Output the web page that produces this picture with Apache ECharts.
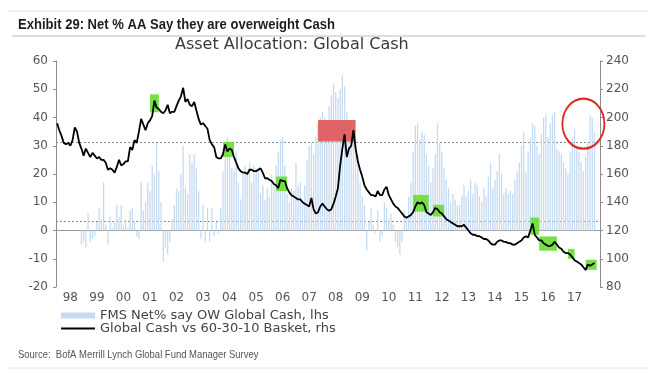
<!DOCTYPE html>
<html><head><meta charset="utf-8">
<script src="https://cdn.jsdelivr.net/npm/echarts@6/dist/echarts.min.js"></script>
<style>html,body{margin:0;padding:0;background:#fff}#c{width:657px;height:373px}</style>
</head><body><div id="c"></div>
<script>
// ---- data ----
const startYear = 1998;
const monthCount = 246; // Jan 1998 .. Jun 2018

// FMS Net% say OW Global Cash (lhs), monthly from Jan 1998
const fmsNetCash = [
 null,null,null,null,null,null,null,null,null,null,null,-5,
 -4,-6,6,-4,-3,-2,3,8,4,17,2,-5,
 5,1,3,9,5,9,2,4,1,7,8,3,
 -2,-3,17,7,10,17,14,23,20,31,21,10,
 -11,-6,-8.5,-4,4,9,15,14,20,30,15,13,
 27,24,27,22,14,-3,9,-4,8,-4,8,-2,
 3,-1,8,21,26,33,26,22,21,28,17,11,
 20,23,20,24,17,23,22,22,13,16,11,15,
 12,20,16,23,28,32,33,23,13,10,15,14,
 24,16,17,10,16,25,30,31,27,33,38,40,
 42,40,38,44,48,52,49,47,50,55,51,42,
 38,35,33,30,27,17,12,9,-7,3,8,2,
 -1,7,-4,-2,10,8,4,6,2,-4,-6,-8.5,
 -4,7,5,12,17,28,37,38,32,35,34,27,
 23,17,22,27,38,31,28,22,18,15,10,13,
 11,9,9,12,16,12,14,18,13,17,16,12,
 10,15,12,19,24,15,18,21,27,20,13,15,
 13,14,13,18,21,24,30,35,21,28,33,38,
 37,30,27,34,40,41,33,38,41,42,29,28,
 27,24,22,20,28,33,36,30,28,24,21,26,
 31,41,40,35
];

// Global Cash vs 60-30-10 Basket (rhs), monthly from Jan 1998
const cashVsBasket = [
 196,191,187,182,181,182,180,184,193,190,182,178,
 173,178,175,172,175,173,171,172,170,170,168,163,
 164,163,161,165,170,166,167,169,169,179,177,184,
 182,190,199,195,191,196,198,201,212,207,206,204,
 203,205,209,203,204,204,208,212,215,221,211,213,
 209,208,211,205,199,195,196,194,192,184,181,179,
 172,171,171,174,181,176,178,177,172,168,164,162,
 161,161,160,163,163,162,162,163,164,161,157,157,
 156,155,153,152,150,156,155,155,150,147,145,144,
 143,142,142,140,139,138,137,143,135,132,133,137,
 139,137,135,134,135,139,144,150,166,178,188,172,
 178,180,191,178,169,163,158,152,149,147,145,145,
 144,148,145,145,149,151,145,142,139,137,136,134,
 132,130,129,130,131,133,137,140,139,140,138,133,
 132,131,133,136,135,133,132,130,128,127,126,125,
 124,123,123,123,124,122,120,118,117,117,116,116,
 115,114,114,113,111,110,110,112,113,113,112,112,
 111,111,110,110,111,112,113,115,116,115,120,125,
 117,115,113,113,111,110,109,109,110,112,110,108,
 107,105,104,104,103,101,99,98,97,96,94,92,
 96,95,96,97
];

const leftTicks = {min: -20, max: 60, step: 10};
const rightTicks = {min: 80, max: 240, step: 20};
const dashedLevels = [31.3, 3.1]; // lhs
// highlight boxes: [fromIndex, toIndex, fromRhs, toRhs]
const greenBoxes = [
 [42,46,203.7,216.4],[75,80,172,182.7],[98.5,104,148,158.2],
 [160.5,168,133.4,145.2],[170.2,175.1,129.9,138.2],[214,217.5,117,129.2],
 [217.5,226,105.7,115.8],[230.5,233.5,100,107],[239.2,243.5,92.2,99.3]
];
const redBox = [118, 134.5, 183, 198.2];
const redCircle = [237.7, 195.6];

const categories = [];
for (let i = 0; i < monthCount; i++) {
  const y = startYear + Math.floor(i / 12), m = i % 12 + 1;
  categories.push(y + '-' + (m < 10 ? '0' + m : m));
}

const axisGrey = '#8c8c8c';
const labelStyle = {fontFamily: 'DejaVu Sans', fontSize: 12, color: '#555'};

const chart = echarts.init(document.getElementById('c'), null, {renderer: 'canvas'});
chart.setOption({
  animation: false,
  backgroundColor: '#fff',
  grid: {left: 56, right: 57, top: 61, bottom: 86},
  graphic: [
    {type: 'line', shape: {x1: 8, y1: 11, x2: 648, y2: 11}, style: {stroke: '#e4e4e4', lineWidth: 1}},
    {type: 'line', shape: {x1: 12, y1: 36, x2: 645, y2: 36}, style: {stroke: '#b4bfcf', lineWidth: 1}},
    {type: 'line', shape: {x1: 8, y1: 368, x2: 648, y2: 368}, style: {stroke: '#e4e4e4', lineWidth: 1}},
    {type: 'text', x: 18, y: 17, scaleX: 0.87, style: {text: 'Exhibit 29: Net % AA Say they are overweight Cash',
      font: 'bold 15px "Liberation Sans"', fill: '#1e1e1e'}},
    {type: 'text', left: 175, top: 37, style: {text: 'Asset Allocation: Global Cash',
      font: '16px "DejaVu Sans"', fill: '#3a3a3a'}},
    {type: 'text', x: 18, y: 349, scaleX: 0.86, style: {text: 'Source:  BofA Merrill Lynch Global Fund Manager Survey',
      font: '11px "Liberation Sans"', fill: '#555'}}
  ],
  legend: {
    orient: 'vertical', left: 60, top: 309, itemGap: 0, padding: 0,
    itemWidth: 34, itemHeight: 6,
    textStyle: {fontFamily: 'DejaVu Sans', fontSize: 13, color: '#444', lineHeight: 10},
    data: [
      {name: 'FMS Net% say OW Global Cash, lhs', icon: 'rect'},
      {name: 'Global Cash vs 60-30-10 Basket, rhs', itemStyle: {color: 'rgba(0,0,0,0)', borderWidth: 0}}
    ]
  },
  xAxis: {
    type: 'category', data: categories, boundaryGap: true,
    axisLine: {lineStyle: {color: axisGrey}},
    axisTick: {interval: function (i) { return i % 12 === 0; }, length: 4, lineStyle: {color: axisGrey}},
    axisLabel: Object.assign({}, labelStyle, {
      interval: function (i) { return i % 12 === 6; },
      formatter: function (v) { return v.slice(2, 4); }, margin: 5
    }),
    splitLine: {show: false}
  },
  yAxis: [
    {type: 'value', min: leftTicks.min, max: leftTicks.max, interval: leftTicks.step,
     axisLine: {show: true, lineStyle: {color: axisGrey}},
     axisTick: {show: true, length: 3, lineStyle: {color: axisGrey}},
     axisLabel: Object.assign({}, labelStyle, {margin: 8}), splitLine: {show: false}},
    {type: 'value', min: rightTicks.min, max: rightTicks.max, interval: rightTicks.step, position: 'right',
     axisLine: {show: true, lineStyle: {color: axisGrey}},
     axisTick: {show: true, length: 3, lineStyle: {color: axisGrey}},
     axisLabel: Object.assign({}, labelStyle, {margin: 6}), splitLine: {show: false}}
  ],
  series: [
    {
      name: 'FMS Net% say OW Global Cash, lhs', type: 'bar', yAxisIndex: 0,
      data: fmsNetCash, barWidth: 1.3, z: 1,
      itemStyle: {color: '#c6dbf1'},
      markLine: {
        silent: true, symbol: 'none', label: {show: false}, z: 1,
        data: [
          {yAxis: 0, lineStyle: {color: '#9a9a9a', type: 'solid', width: 1}},
          {yAxis: dashedLevels[0], lineStyle: {color: '#8a8a8a', type: [2, 2], width: 1}},
          {yAxis: dashedLevels[1], lineStyle: {color: '#8a8a8a', type: [2, 2], width: 1}}
        ]
      }
    },
    {
      // carrier for highlight boxes, on the rhs scale, drawn under the line
      name: 'highlights', type: 'line', yAxisIndex: 1, data: [], z: 2, silent: true,
      markArea: {
        silent: true, z: 2,
        data: greenBoxes.map(function (b) {
          return [{xAxis: b[0], yAxis: b[2], itemStyle: {color: 'rgba(102,222,50,0.9)'}}, {xAxis: b[1], yAxis: b[3]}];
        }).concat([[{xAxis: redBox[0], yAxis: redBox[2], itemStyle: {color: 'rgba(222,88,88,0.92)'}}, {xAxis: redBox[1], yAxis: redBox[3]}]])
      }
    },
    {
      name: 'Global Cash vs 60-30-10 Basket, rhs', type: 'line', yAxisIndex: 1,
      data: cashVsBasket, symbol: 'none', z: 10, zlevel: 1,
      lineStyle: {color: '#000', width: 1.8}, itemStyle: {color: '#000'},
      markPoint: {
        silent: true, symbol: 'circle', symbolSize: [42, 50], label: {show: false},
        itemStyle: {color: 'rgba(0,0,0,0)', borderColor: '#e02828', borderWidth: 2},
        data: [{coord: redCircle}]
      }
    }
  ]
});
</script></body></html>
